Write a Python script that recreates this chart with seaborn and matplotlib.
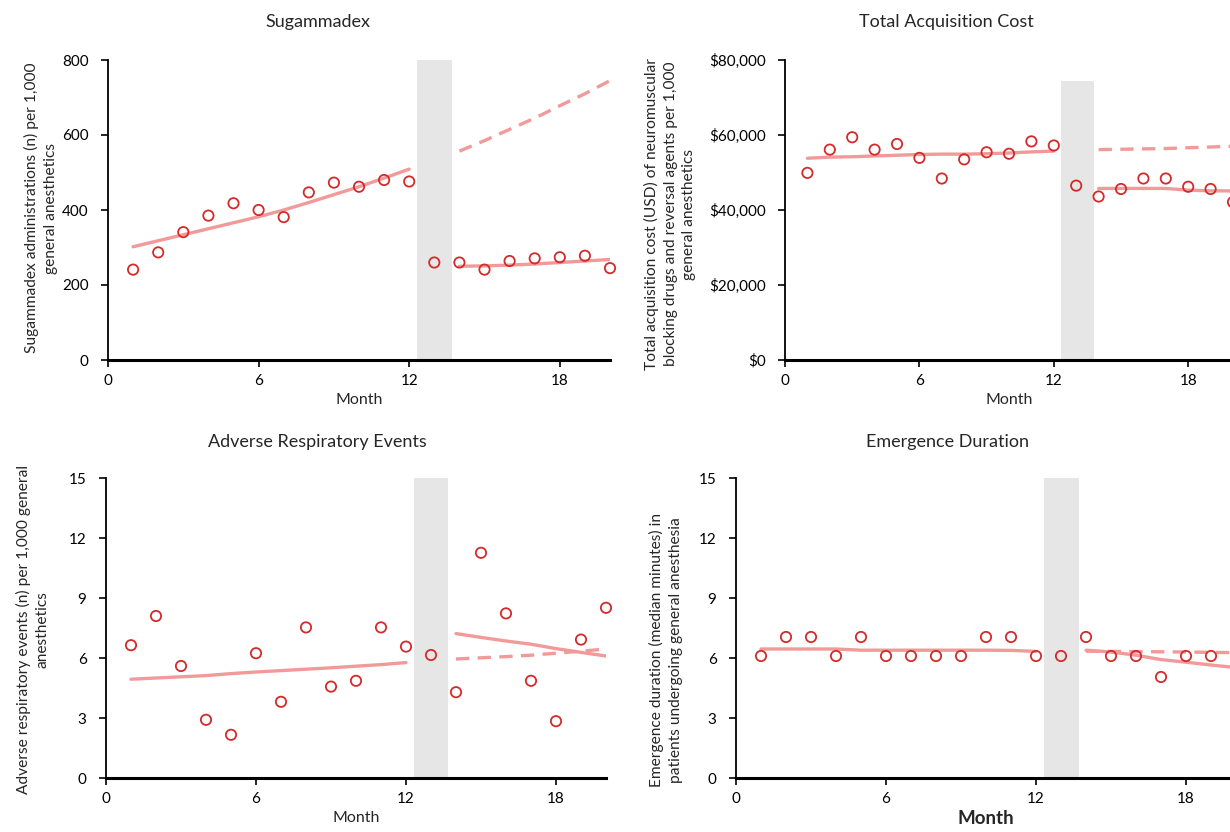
import seaborn as sns
import numpy as np
import pandas as pd
import matplotlib.pyplot as plt
from matplotlib.ticker import FuncFormatter

sns.set_style("ticks")
plt.rcParams["font.family"] = ["Lato", "DejaVu Sans"]

# months
months = list(range(1, 21))
pre_months = list(range(1, 13))
post_months = list(range(14, 21))

# Sugammadex
sug_obs = [241, 287, 341, 385, 418, 400, 381, 447, 473, 462, 480, 476,
           260, 260, 241, 264, 271, 274, 278, 245]
sug_pre_fit = [302, 318, 334, 350, 366, 382, 400, 420, 441, 462, 485, 509]
sug_post_fit = [250, 251, 253, 256, 260, 264, 268]
sug_post_cf = [557, 585, 615, 645, 678, 710, 745]

# Total acquisition cost
cost_obs = [49900, 56100, 59400, 56100, 57600, 53900, 48400, 53500, 55400, 55000,
            58300, 57200, 46500, 43600, 45600, 48400, 48400, 46200, 45600, 42100]
cost_pre_fit = [53800, 54100, 54200, 54400, 54600, 54800, 54900, 54900, 55000,
                55200, 55500, 55700]
cost_post_fit = [45750, 45750, 45750, 45750, 45300, 45100, 45100]
cost_post_cf = [56100, 56200, 56300, 56400, 56600, 56800, 57000]

# Adverse respiratory events
resp_obs = [6.64, 8.10, 5.60, 2.91, 2.16, 6.24, 3.81, 7.53, 4.57, 4.86,
            7.53, 6.57, 6.15, 4.29, 11.26, 8.23, 4.86, 2.84, 6.92, 8.51]
resp_pre_fit = [4.94, 5.00, 5.06, 5.12, 5.22, 5.30, 5.37, 5.44, 5.51, 5.59, 5.67, 5.77]
resp_post_fit = [7.22, 7.03, 6.85, 6.69, 6.47, 6.28, 6.10]
resp_post_cf = [5.95, 6.01, 6.07, 6.14, 6.24, 6.34, 6.45]

# Emergence duration
emer_obs = [6.1, 7.05, 7.05, 6.1, 7.05, 6.1, 6.1, 6.1, 6.1, 7.05,
            7.05, 6.1, 6.1, 7.05, 6.1, 6.1, 5.05, 6.1, 6.1, 6.1]
emer_pre_fit = [6.45, 6.45, 6.45, 6.45, 6.39, 6.39, 6.39, 6.39, 6.39, 6.39, 6.38, 6.33]
emer_post_fit = [6.39, 6.30, 6.14, 5.92, 5.79, 5.65, 5.52]
emer_post_cf = [6.34, 6.33, 6.32, 6.31, 6.30, 6.28, 6.27]

titles = ["Sugammadex", "Total Acquisition Cost",
          "Adverse Respiratory Events", "Emergence Duration"]
ylabels = ["Sugammadex administrations (n) per 1,000\ngeneral anesthetics",
           "Total acquisition cost (USD) of neuromuscular\nblocking drugs and reversal agents per 1,000\ngeneral anesthetics",
           "Adverse respiratory events (n) per 1,000 general\nanesthetics",
           "Emergence duration (median minutes) in\npatients undergoing general anesthesia"]
yticks = [[0, 200, 400, 600, 800],
          [0, 20000, 40000, 60000, 80000],
          [0, 3, 6, 9, 12, 15],
          [0, 3, 6, 9, 12, 15]]
xticks = [0, 6, 12, 18]

panels = [
    (sug_obs, sug_pre_fit, sug_post_fit, sug_post_cf),
    (cost_obs, cost_pre_fit, cost_post_fit, cost_post_cf),
    (resp_obs, resp_pre_fit, resp_post_fit, resp_post_cf),
    (emer_obs, emer_pre_fit, emer_post_fit, emer_post_cf),
]

W, H = 1230, 832
fig = plt.figure(figsize=(W / 100, H / 100), dpi=100)

# pixel boxes: left, right (month 20), top, bottom
boxes = [(108, 610, 60, 360), (785, 1233, 60, 360),
         (106, 606, 478, 778), (736, 1236, 478, 778)]
bands = [(12.3, 13.7, 1.0), (12.3, 13.8, 0.93), (12.3, 13.7, 1.0), (12.3, 13.7, 1.0)]
title_pos = [(318, 22), (946, 22), (317, 442), (947, 442)]
ylabel_pos = [(41, 208), (670, 214), (33, 630), (666, 650)]

obs_col = "#d42a2a"
fit_col = "#f29a9a"

for i, (obs, pre, post, cf) in enumerate(panels):
    l, r, t, b = boxes[i]
    ax = fig.add_axes([l / W, 1 - b / H, (r - l) / W, (b - t) / H])

    b0, b1, btop = bands[i]
    ax.axvspan(b0, b1, ymin=0, ymax=btop, color="#e6e6e6", lw=0, zorder=0)

    df_obs = pd.DataFrame({"month": months, "value": obs})
    df_pre = pd.DataFrame({"month": pre_months, "value": pre})
    df_post = pd.DataFrame({"month": post_months, "value": post})
    df_cf = pd.DataFrame({"month": post_months, "value": cf})

    sns.lineplot(data=df_pre, x="month", y="value", ax=ax, color=fit_col, lw=2.4)
    sns.lineplot(data=df_post, x="month", y="value", ax=ax, color=fit_col, lw=2.4)
    sns.lineplot(data=df_cf, x="month", y="value", ax=ax, color=fit_col, lw=2.4,
                 linestyle=(0, (4, 2.5)))
    sns.scatterplot(data=df_obs, x="month", y="value", ax=ax, marker="o", s=55,
                    facecolor="none", edgecolor=obs_col, linewidth=1.3, zorder=5,
                    clip_on=False)

    ax.set_xlim(0, 20)
    ax.set_ylim(yticks[i][0], yticks[i][-1])
    ax.set_xticks(xticks)
    ax.set_yticks(yticks[i])
    if i == 1:
        ax.yaxis.set_major_formatter(FuncFormatter(lambda v, p: f"${v:,.0f}"))

    sns.despine(ax=ax)
    ax.spines["bottom"].set_linewidth(2.2)
    ax.spines["left"].set_linewidth(1.3)
    ax.spines["bottom"].set_color("black")
    ax.spines["left"].set_color("black")
    ax.tick_params(axis="both", labelsize=11, length=5, width=1.2, color="black",
                   labelcolor="black")
    ax.tick_params(axis="y", pad=9)
    ax.tick_params(axis="x", pad=5)

    ax.set_ylabel("")
    if i == 3:
        ax.set_xlabel("Month", fontsize=13.5, fontweight="bold", labelpad=3)
    else:
        ax.set_xlabel("Month", fontsize=11.5, labelpad=4)

    tx, ty = title_pos[i]
    fig.text(tx / W, 1 - ty / H, titles[i], ha="center", va="center", fontsize=13)
    lx, ly = ylabel_pos[i]
    fig.text(lx / W, 1 - ly / H, ylabels[i], ha="center", va="center", rotation=90,
             fontsize=11.2, linespacing=1.4, multialignment="center")

fig.savefig("out.png", dpi=100)
